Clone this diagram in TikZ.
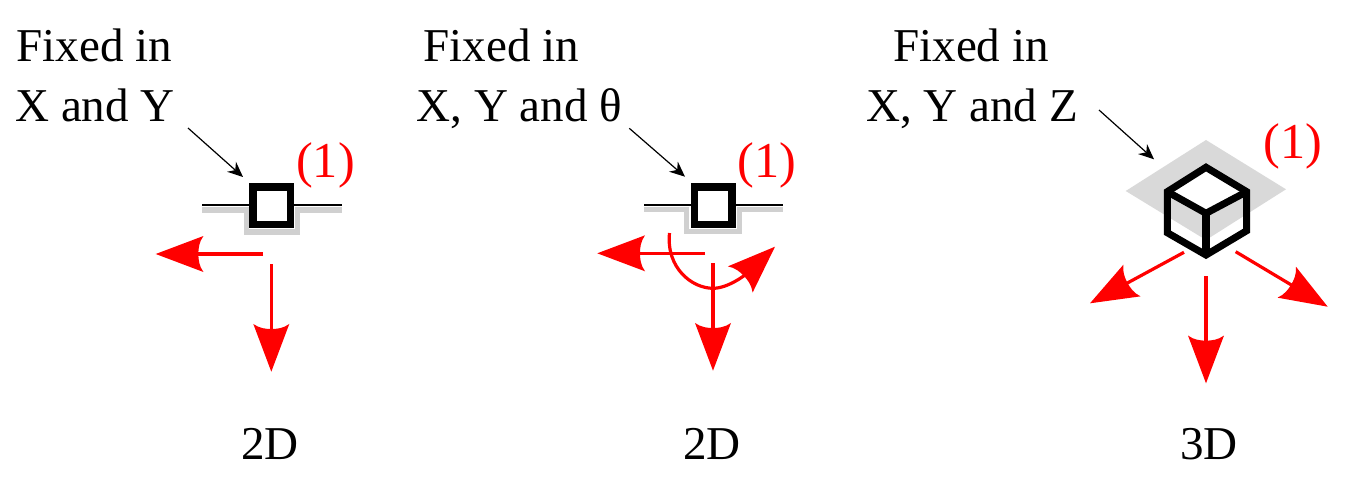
\documentclass[tikz,border=0pt]{standalone}
\usepackage{fontspec}
\setmainfont{Liberation Serif}
\usetikzlibrary{arrows.meta}
\pgfdeclarearrow{
  name=RedHead,
  setup code={
    \pgfarrowssettipend{0pt}
    \pgfarrowssetbackend{-35.8pt}
    \pgfarrowssetlineend{-31pt}
    \pgfarrowssetvisualbackend{-32pt}
    \pgfarrowshullpoint{0pt}{0pt}
    \pgfarrowsupperhullpoint{-35.8pt}{13.5pt}
  },
  drawing code={
    \pgfpathmoveto{\pgfqpoint{0pt}{0pt}}
    \pgfpathlineto{\pgfqpoint{-35.8pt}{13.5pt}}
    \pgfpathcurveto{\pgfqpoint{-32.5pt}{9pt}}{\pgfqpoint{-32pt}{4pt}}{\pgfqpoint{-32pt}{0pt}}
    \pgfpathcurveto{\pgfqpoint{-32pt}{-4pt}}{\pgfqpoint{-32.5pt}{-9pt}}{\pgfqpoint{-35.8pt}{-13.5pt}}
    \pgfpathclose
    \pgfusepathqfill
  }
}
\definecolor{shade}{HTML}{D0D0D0}
\definecolor{plate}{HTML}{D9D9D9}
\tikzset{
  label text/.style={inner sep=0pt,anchor=base,font=\fontsize{35.3}{42}\selectfont},
  mark text/.style={inner sep=0pt,anchor=base,text=red,font=\fontsize{37.7}{42}\selectfont},
  pointer/.style={draw=black,line width=0.9pt,-{Stealth[length=11.5pt,width=10pt]}},
  dof/.style={draw=red,line width=2.4pt,-RedHead},
  rail/.style={draw=black,line width=1.5pt},
  groove/.style={draw=shade,line width=3.8pt},
  slider/.style={draw=black,fill=white,line width=5.5pt,minimum size=28pt,inner sep=0pt,rectangle},
  cubeline/.style={draw=black,line width=5.3pt,line join=miter,miter limit=3}
}
\begin{document}
\begin{tikzpicture}[x=0.75pt,y=-0.75pt]
\useasboundingbox (0,0) rectangle (1347,485);
% --- panel 1
\node[label text] (a1) at (94.5,62) {Fixed in};
\node[label text] (a2) at (95,122) {X and Y};
\node[mark text] (am) at (325.5,177) {(1)};
\node[label text] (ad) at (270,459) {2D};
\coordinate (ap) at (188,128); \coordinate (apt) at (243,177);
\draw[pointer] (ap) -- (apt);
\coordinate (ag1) at (202,210); \coordinate (ag2) at (246.7,210); \coordinate (ag3) at (246.7,232);
\coordinate (ag4) at (297.7,232); \coordinate (ag5) at (297.7,210); \coordinate (ag6) at (342,210);
\draw[groove] (ag1) -- (ag2) -- (ag3) -- (ag4) -- (ag5) -- (ag6);
\coordinate (ar1) at (202,205); \coordinate (ar2) at (342,205);
\draw[rail] (ar1) -- (ar2);
\node[slider] (abox) at (271.7,205.8) {};
\coordinate (al0) at (263,254); \coordinate (al1) at (155.7,254);
\draw[dof] (al0) -- (al1);
\coordinate (ay0) at (271.3,264); \coordinate (ay1) at (271.3,371.7);
\draw[dof] (ay0) -- (ay1);
% --- panel 2
\node[label text] (b1) at (501.5,62) {Fixed in};
\node[label text] (b2) at (519.5,122) {X, Y and θ};
\node[mark text] (bm) at (767,177) {(1)};
\node[label text] (bd) at (712,459) {2D};
\coordinate (bp) at (629.3,128.3); \coordinate (bpt) at (685,176.7);
\draw[pointer] (bp) -- (bpt);
\coordinate (bg1) at (644,209.7); \coordinate (bg2) at (686.7,209.7); \coordinate (bg3) at (686.7,231.7);
\coordinate (bg4) at (739.7,231.7); \coordinate (bg5) at (739.7,209.7); \coordinate (bg6) at (782.7,209.7);
\draw[groove] (bg1) -- (bg2) -- (bg3) -- (bg4) -- (bg5) -- (bg6);
\coordinate (br1) at (644,204.7); \coordinate (br2) at (782.7,204.7);
\draw[rail] (br1) -- (br2);
\node[slider] (bbox) at (713.3,205.5) {};
\coordinate (bl0) at (705,253.3); \coordinate (bl1) at (597.3,253.3);
\draw[dof] (bl0) -- (bl1);
\coordinate (by0) at (713,263.3); \coordinate (by1) at (713,370.7);
\draw[dof] (by0) -- (by1);
\coordinate (bt0) at (669.5,233); \coordinate (btm) at (713,288.3); \coordinate (bt1) at (775,246.7);
\draw[dof] (bt0) .. controls (666,268) and (692,288.3) .. (btm) .. controls (728,288.3) and (745,275) .. (bt1);
% --- panel 3
\node[label text] (c1) at (971,62) {Fixed in};
\node[label text] (c2) at (972,122) {X, Y and Z};
\node[mark text] (cm) at (1293,158) {(1)};
\node[label text] (cd) at (1209,459) {3D};
\coordinate (cp) at (1099,110); \coordinate (cpt) at (1154,159.3);
\draw[pointer] (cp) -- (cpt);
\coordinate (d1) at (1206,140); \coordinate (d2) at (1286,189.3); \coordinate (d3) at (1206,240); \coordinate (d4) at (1125.7,191);
\fill[plate] (d1) -- (d2) -- (d3) -- (d4) -- cycle;
\coordinate (h1) at (1206,167.3); \coordinate (h2) at (1246.7,191.7); \coordinate (h3) at (1246.7,230.7);
\coordinate (h4) at (1206,255); \coordinate (h5) at (1167.3,232.7); \coordinate (h6) at (1167.3,191.7);
\coordinate (h0) at (1206,213.3);
\fill[white] (h1) -- (h2) -- (h0) -- (h6) -- cycle;
\draw[cubeline] (h1) -- (h2) -- (h3) -- (h4) -- (h5) -- (h6) -- cycle;
\draw[cubeline] (h6) -- (h0) -- (h2);
\draw[cubeline] (h0) -- (h4);
\coordinate (cl0) at (1184,252.3); \coordinate (cl1) at (1090,303.3);
\draw[dof] (cl0) -- (cl1);
\coordinate (cy0) at (1206,276); \coordinate (cy1) at (1206,383.3);
\draw[dof] (cy0) -- (cy1);
\coordinate (cr0) at (1235.7,251.7); \coordinate (cr1) at (1327.7,306.7);
\draw[dof] (cr0) -- (cr1);
\end{tikzpicture}
\end{document}
